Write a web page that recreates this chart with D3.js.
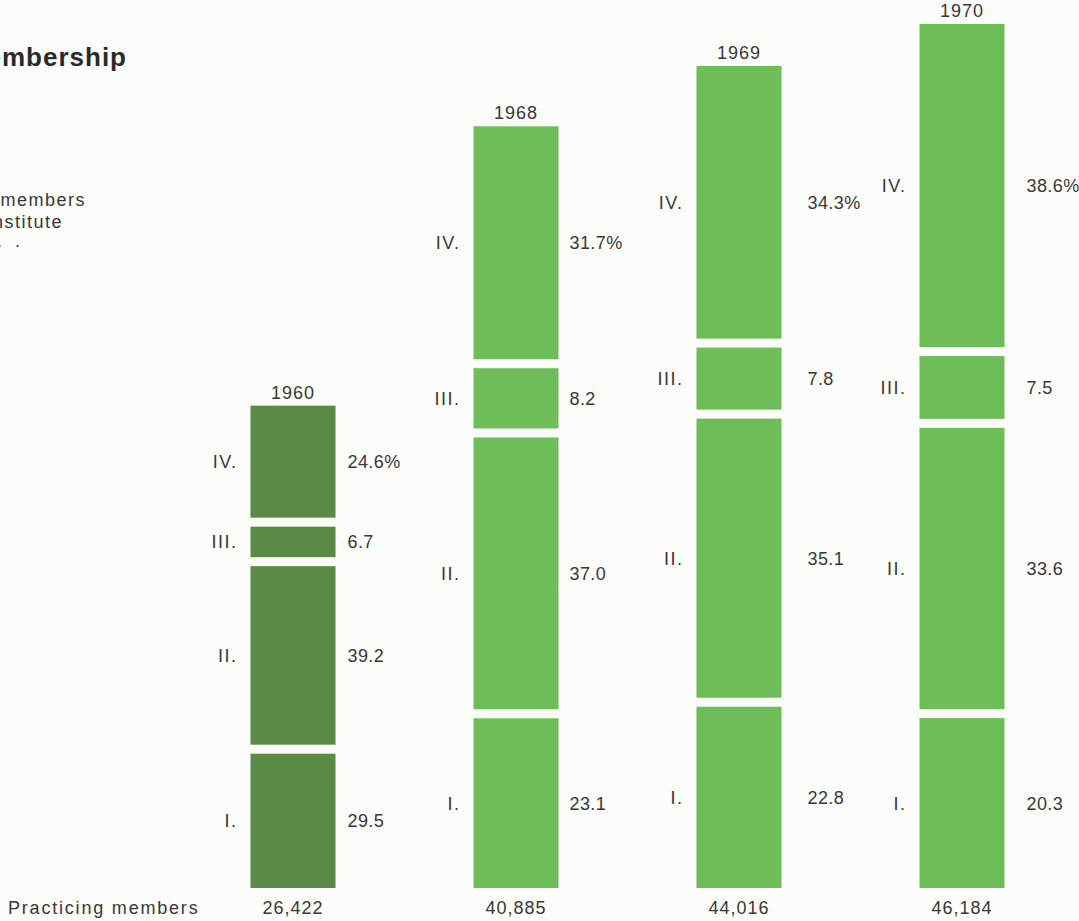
<!DOCTYPE html>
<html>
<head>
<meta charset="utf-8">
<script src="https://cdn.jsdelivr.net/npm/d3@7"></script>
<style>
  html, body { margin: 0; padding: 0; background: #fcfcfa; }
  svg { display: block; }
  text { font-family: "Liberation Sans", Arial, Helvetica, sans-serif; fill: #383838; }
</style>
</head>
<body>
<svg id="chart" width="1079" height="921"></svg>
<script>
// ---- data ----
const years = ["1960", "1968", "1969", "1970"];
const totals = [26422, 40885, 44016, 46184];
const classes = ["I.", "II.", "III.", "IV."];          // bottom to top
const pctI   = [29.5, 23.1, 22.8, 20.3];
const pctII  = [39.2, 37.0, 35.1, 33.6];
const pctIII = [6.7, 8.2, 7.8, 7.5];
const pctIV  = [24.6, 31.7, 34.3, 38.6];
const totalLabels = ["26,422", "40,885", "44,016", "46,184"];

// ---- layout ----
const W = 1079, H = 921;
const baseY = 888, gap = 9, barW = 85;
const pctOffset = [12, 11, 26, 22];
const colors = ["#5b8a47", "#6dbd58", "#6dbd58", "#6dbd58"];
const FS = "18px";

const svg = d3.select("#chart");
svg.append("rect").attr("width", W).attr("height", H).attr("fill", "#fcfcfa");

const x = d3.scalePoint().domain(years).range([293, 962]);
const h = d3.scaleLinear().domain([2845, 46184]).range([0, 837]);

const pctBy = [pctI, pctII, pctIII, pctIV];

years.forEach((yr, i) => {
  const cx = x(yr);
  const x0 = cx - barW / 2;
  const total = h(totals[i]);
  let yBottom = baseY;
  const g = svg.append("g");
  const segs = classes.map((c, k) => {
    const sh = total * pctBy[k][i] / 100;
    const s = { cls: c, pct: pctBy[k][i], k, y0: yBottom - sh, y1: yBottom };
    yBottom = yBottom - sh - gap;
    return s;
  });
  g.selectAll("rect").data(segs).join("rect")
    .attr("x", x0).attr("width", barW)
    .attr("y", d => d.y0).attr("height", d => d.y1 - d.y0)
    .attr("fill", colors[i]);
  g.selectAll("text.cls").data(segs).join("text").attr("class", "cls")
    .attr("x", x0 - 13).attr("y", d => (d.y0 + d.y1) / 2)
    .attr("dy", "0.36em").attr("text-anchor", "end")
    .style("font-size", FS).style("letter-spacing", "1.5px")
    .text(d => d.cls);
  g.selectAll("text.pct").data(segs).join("text").attr("class", "pct")
    .attr("x", x0 + barW + pctOffset[i]).attr("y", d => (d.y0 + d.y1) / 2)
    .attr("dy", "0.36em")
    .style("font-size", FS).style("letter-spacing", "0.4px")
    .text(d => d.pct.toFixed(1) + (d.k === 3 ? "%" : ""));
  const top = segs[3].y0;
  g.append("text").attr("x", cx).attr("y", top - 7)
    .attr("text-anchor", "middle")
    .style("font-size", FS).style("letter-spacing", "1px")
    .text(yr);
  g.append("text").attr("x", cx).attr("y", 914)
    .attr("text-anchor", "middle")
    .style("font-size", FS).style("letter-spacing", "1px")
    .text(totalLabels[i]);
});

svg.append("text").attr("x", 8).attr("y", 914)
  .style("font-size", FS).style("letter-spacing", "1.8px")
  .text("Practicing members");

// title & note (left part cut off in the reference)
svg.append("text").attr("x", 127).attr("y", 66).attr("text-anchor", "end")
  .style("font-size", "26px").style("font-weight", "bold").style("letter-spacing", "1px")
  .style("fill", "#2a2a2a")
  .text("Membership");
svg.append("text").attr("x", 86).attr("y", 206).attr("text-anchor", "end")
  .style("font-size", FS).style("letter-spacing", "1.5px")
  .text("Percentage of members");
svg.append("text").attr("x", 63).attr("y", 228).attr("text-anchor", "end")
  .style("font-size", FS).style("letter-spacing", "1.5px")
  .text("in each class of the Institute");
svg.append("text").attr("x", 24).attr("y", 247).attr("text-anchor", "end")
  .style("font-size", FS).style("letter-spacing", "4px")
  .text(". . . .");
</script>
</body>
</html>
